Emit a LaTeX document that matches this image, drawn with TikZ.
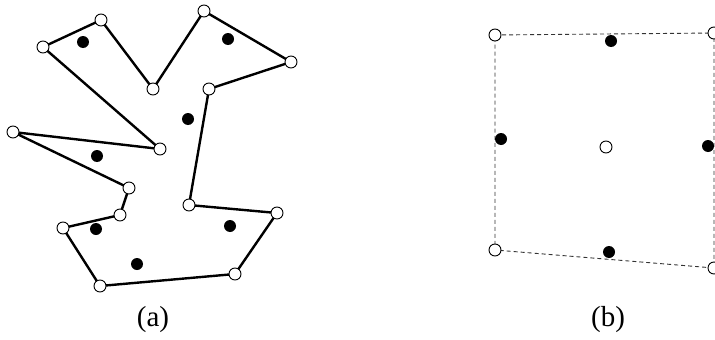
\documentclass[tikz,border=0pt]{standalone}
\usepackage{fontspec}
\setmainfont{Liberation Serif}
\begin{document}
\begin{tikzpicture}[x=1pt,y=-1pt,
  vert/.style={circle,draw=black,line width=0.9pt,fill=white,minimum size=12pt,inner sep=0pt},
  site/.style={circle,fill=black,minimum size=12pt,inner sep=0pt},
  edge/.style={line width=2.4pt,line join=round},
  cell/.style={line width=0.9pt,draw=black!80,dash pattern=on 4pt off 3pt},
  caption/.style={font=\fontsize{29}{33}\selectfont}]
\useasboundingbox (0,0) rectangle (715,340);
% (a) polygon vertices
\coordinate (p1) at (43,47);
\coordinate (p2) at (101,20);
\coordinate (p3) at (153,89);
\coordinate (p4) at (204,11);
\coordinate (p5) at (291,62);
\coordinate (p6) at (209,89);
\coordinate (p7) at (189,205);
\coordinate (p8) at (277,213);
\coordinate (p9) at (235,274);
\coordinate (p10) at (100,286);
\coordinate (p11) at (63,228);
\coordinate (p12) at (120,215);
\coordinate (p13) at (129,188);
\coordinate (p14) at (13,132);
\coordinate (p15) at (160,149);
\draw[edge] (p1) -- (p2) -- (p3) -- (p4) -- (p5) -- (p6) -- (p7) -- (p8) -- (p9) -- (p10) -- (p11) -- (p12) -- (p13) -- (p14) -- (p15) -- cycle;
\foreach \i in {1,...,15} \node[vert] (v\i) at (p\i) {};
% (a) sites
\node[site] (s1) at (83,42) {};
\node[site] (s2) at (228,39) {};
\node[site] (s3) at (188,119) {};
\node[site] (s4) at (97,156) {};
\node[site] (s5) at (96,229) {};
\node[site] (s6) at (230,226) {};
\node[site] (s7) at (137,264) {};
% (b)
\coordinate (q1) at (495,35);
\coordinate (q2) at (714,33);
\coordinate (q3) at (714,268);
\coordinate (q4) at (495,250);
\draw[cell] (q1) -- (q2) -- (q3) -- (q4) -- cycle;
\foreach \i in {1,...,4} \node[vert] (w\i) at (q\i) {};
\node[vert] (c) at (606,147) {};
\node[site] (t1) at (611,41) {};
\node[site] (t2) at (501,139) {};
\node[site] (t3) at (708,146) {};
\node[site] (t4) at (609,252) {};
% captions
\node[caption] (la) at (153,320) {(a)};
\node[caption] (lb) at (608,320) {(b)};
\end{tikzpicture}
\end{document}
